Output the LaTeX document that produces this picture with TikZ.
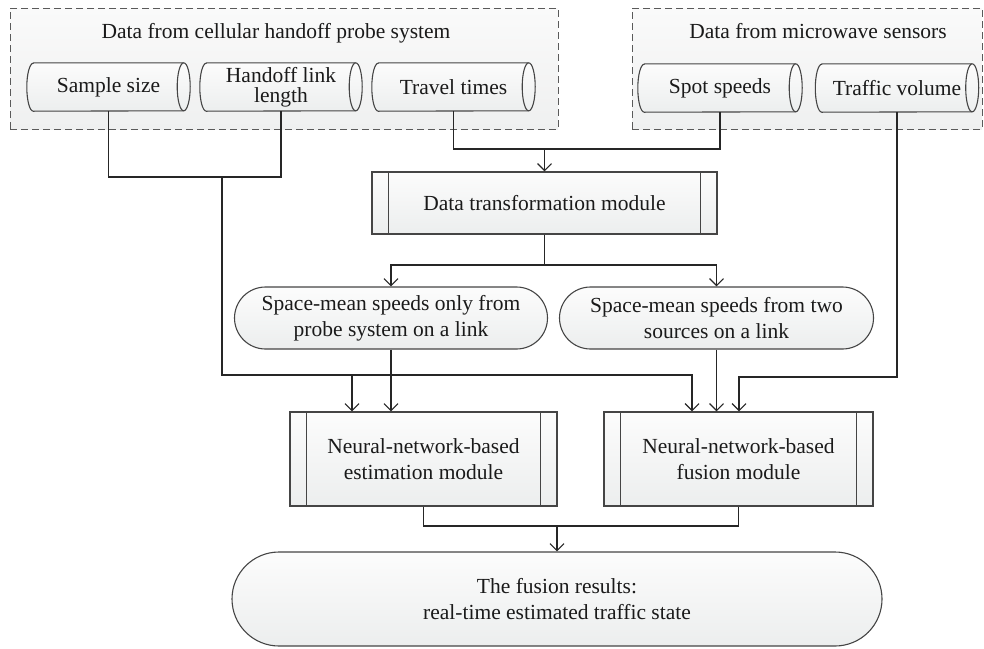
\documentclass[tikz,border=0pt]{standalone}
\usepackage{fontspec}
\setmainfont{Liberation Serif}
\usetikzlibrary{arrows.meta,calc}

\pgfdeclarelayer{groups}
\pgfdeclarelayer{shapes}
\pgfsetlayers{groups,shapes,main}

\definecolor{edge}{HTML}{454545}
\definecolor{wirec}{HTML}{262626}
\definecolor{filltop}{HTML}{FCFCFC}
\definecolor{fillbot}{HTML}{ECEEEE}
\definecolor{grouptop}{HTML}{FAFAFA}
\definecolor{groupbot}{HTML}{EFF0F0}
\definecolor{dashc}{HTML}{5A5A5A}
\definecolor{ink}{HTML}{1A1A1A}

\tikzset{
  txt/.style={font=\fontsize{21.5}{26}\selectfont, text=ink, align=center, inner sep=0pt},
  drum/.style={txt, font=\fontsize{21.5}{20}\selectfont, minimum height=48pt},
  drumbody/.style={draw=edge, line width=1.1pt, top color=filltop, bottom color=fillbot},
  drumrim/.style={draw=edge, line width=1.1pt},
  procbox/.style={txt, draw=edge, line width=1.1pt, top color=filltop, bottom color=fillbot},
  procbar/.style={draw=edge, line width=1.1pt},
  stadium/.style={txt, draw=edge, line width=1.1pt, top color=filltop, bottom color=fillbot},
  group/.style={draw=dashc, dash pattern=on 7pt off 4pt, line width=1pt,
                top color=grouptop, bottom color=groupbot, inner sep=0pt},
  wire/.style={draw=wirec, line width=1.3pt},
  feed/.style={wire, -{Straight Barb[length=7pt,width=14pt,line width=1.2pt]}},
}

% horizontal drum: half ellipse on the left, full ellipse on the right
\newcommand{\drumshape}[1]{%
  \path[drumbody] ([xshift=6.5pt]#1.north west) -- ([xshift=-6.5pt]#1.north east)
    arc[start angle=90,end angle=-90,x radius=6.5pt,y radius=24pt]
    -- ([xshift=6.5pt]#1.south west)
    arc[start angle=270,end angle=90,x radius=6.5pt,y radius=24pt] -- cycle;
  \draw[drumrim] ([xshift=-6.5pt]#1.north east)
    arc[start angle=90,end angle=270,x radius=6.5pt,y radius=24pt];}

% predefined-process bars
\newcommand{\procbars}[1]{%
  \draw[procbar] ([xshift=17pt]#1.north west) -- ([xshift=17pt]#1.south west);
  \draw[procbar] ([xshift=-17pt]#1.north east) -- ([xshift=-17pt]#1.south east);}

\begin{document}
\begin{tikzpicture}[x=1pt,y=-1pt]
\useasboundingbox (0,0) rectangle (984,648);

% source groups
\begin{pgfonlayer}{groups}
  \node[group, minimum width=548pt, minimum height=121pt] (probe) at (284,68.5) {};
  \node[group, minimum width=350pt, minimum height=121pt] (micro) at (807,68.5) {};
\end{pgfonlayer}
\node[txt, anchor=base] (probetitle) at (276,38) {Data from cellular handoff probe system};
\node[txt, anchor=base] (microtitle) at (818,38) {Data from microwave sensors};

% data sources
\node[drum, minimum width=163pt] (sample)  at (108.5,87) {Sample size};
\node[drum, minimum width=162pt] (handoff) at (281,87)   {Handoff link\\length};
\node[drum, minimum width=163pt] (travel)  at (453.5,87) {Travel times};
\node[drum, minimum width=164pt] (spot)    at (720,88)   {Spot speeds};
\node[drum, minimum width=163pt] (volume)  at (897,88)   {Traffic volume};
\begin{pgfonlayer}{shapes}
  \foreach \n in {sample,handoff,travel,spot,volume}{\drumshape{\n}}
\end{pgfonlayer}

% processing
\node[procbox, minimum width=345pt, minimum height=62pt] (transform) at (544.5,203) {Data transformation module};
\procbars{transform}

\node[stadium, minimum width=313pt, minimum height=62pt, rounded corners=31pt] (probeonly) at (391,318)
  {Space-mean speeds only from\\probe system on a link};
\node[stadium, minimum width=314pt, minimum height=62pt, rounded corners=31pt] (twosrc) at (716.5,318)
  {Space-mean speeds from two\\sources on a link};

\node[procbox, minimum width=267pt, minimum height=94pt] (estim) at (423.5,459)
  {Neural-network-based\\estimation module};
\procbars{estim}
\node[procbox, minimum width=269pt, minimum height=94pt] (fusion) at (738.5,459)
  {Neural-network-based\\fusion module};
\procbars{fusion}

\node[stadium, minimum width=650pt, minimum height=94pt, rounded corners=47pt] (result) at (557,599)
  {The fusion results:\\real-time estimated traffic state};

% routing levels and entry points
\coordinate (lvlA) at (0,177);
\coordinate (split) at (222,177);
\coordinate (bus) at (0,375);
\coordinate (merge) at (0,149);
\coordinate (fork) at (0,265);
\coordinate (side) at (0,377);
\coordinate (join) at (0,526);
\coordinate (estA) at ([xshift=-71.5pt]estim.north);
\coordinate (fusA) at ([xshift=-46.5pt]fusion.north);
\coordinate (fusC) at ([xshift=0.5pt]fusion.north);

% probe counts and link lengths
\draw[wire] (sample.south) |- (handoff.south |- lvlA) -- (handoff.south);
\draw[feed] (split) |- (fusA |- bus) -- (fusA);
\draw[feed] (estA |- bus) -- (estA);

% travel times and spot speeds into the transformation
\draw[wire] (travel.south) |- (transform.north |- merge);
\draw[feed] (spot.south) |- (transform.north |- merge) -- (transform.north);

% transformation outputs
\draw[wire] (transform.south) -- (transform.south |- fork);
\draw[feed] (transform.south |- fork) -| (probeonly.north);
\draw[feed] (transform.south |- fork) -| (twosrc.north);

\draw[feed] (probeonly.south) -- (probeonly.south |- estim.north);
\draw[feed] (twosrc.south) -- (twosrc.south |- fusion.north);

% traffic volume into fusion
\draw[feed] (volume.south) |- (fusC |- side) -- (fusC);

% module outputs
\draw[wire] (estim.south) |- (fusion.south |- join) -- (fusion.south);
\draw[feed] (result.north |- join) -- (result.north);
\end{tikzpicture}
\end{document}
